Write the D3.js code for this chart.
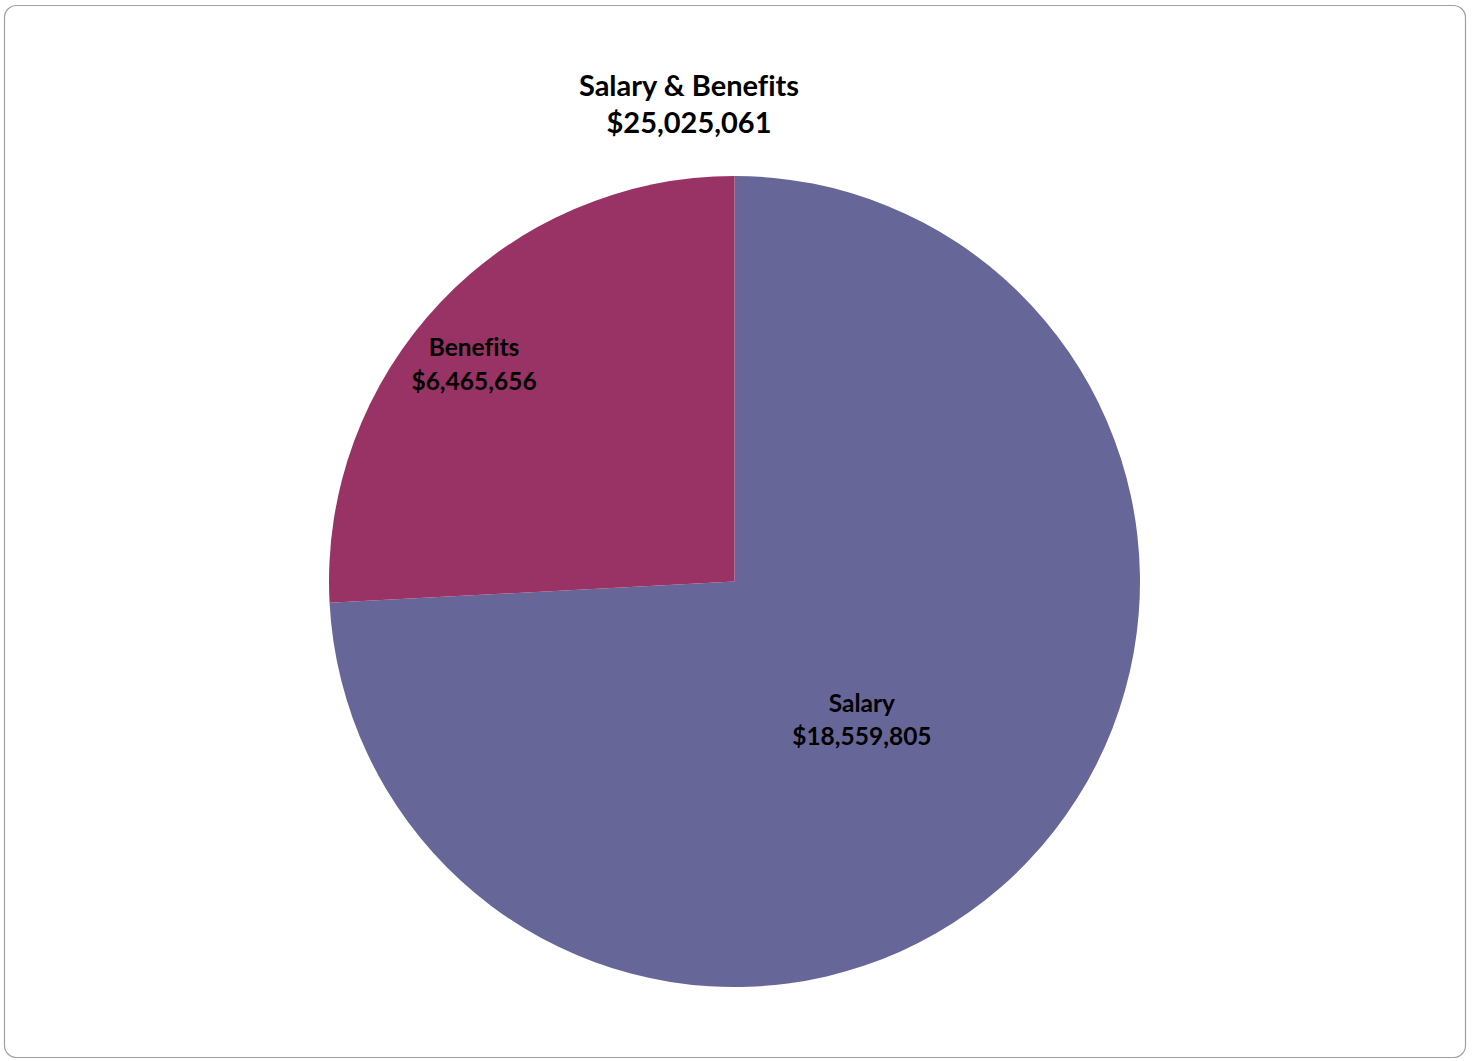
<!DOCTYPE html>
<html>
<head>
<meta charset="utf-8">
<script src="https://cdn.jsdelivr.net/npm/d3@7"></script>
<style>
  html, body { margin: 0; padding: 0; background: #ffffff; }
  svg { display: block; }
  text { font-family: Lato, "Open Sans", "DejaVu Sans", sans-serif; font-weight: bold; fill: #000;
         font-variant-ligatures: none; font-feature-settings: "liga" 0; }
</style>
</head>
<body>
<script>
// Salary & Benefits breakdown
const categories = ["Salary", "Benefits"];
const values = [18559805, 6465656];
const chartTitle = "Salary & Benefits";
const totalLabel = "$25,025,061";

const W = 1473, H = 1061;
const colors = { Salary: "#666699", Benefits: "#993366" };
// label placement per slice: radius fraction and angular shift (degrees) from the slice middle
const labelPlacement = {
  Salary:   { frac: 0.464, shift: 3.9 },
  Benefits: { frac: 0.836, shift: -3.7 }
};

const svg = d3.select("body").append("svg")
  .attr("width", W).attr("height", H);

// chart frame
svg.append("rect")
  .attr("x", 4.5).attr("y", 5.5)
  .attr("width", 1461).attr("height", 1052)
  .attr("rx", 12).attr("ry", 12)
  .attr("fill", "#fff")
  .attr("stroke", "#a0a0a0").attr("stroke-width", 1.2);

// title
const title = svg.append("text")
  .attr("text-anchor", "middle")
  .attr("font-size", 29);
title.append("tspan").attr("x", 689).attr("y", 96).text(chartTitle);
title.append("tspan").attr("x", 689).attr("y", 133).text(totalLabel);

const cx = 734.5, cy = 581.5, r = 405.5;
const data = categories.map((c, i) => ({ name: c, value: values[i] }));

const pie = d3.pie().value(d => d.value).sort(null);
const arc = d3.arc().innerRadius(0).outerRadius(r);
const arcs = pie(data);

const g = svg.append("g").attr("transform", `translate(${cx},${cy})`);

g.selectAll("path.slice")
  .data(arcs)
  .join("path")
  .attr("class", "slice")
  .attr("d", arc)
  .attr("fill", d => colors[d.data.name])
  .attr("stroke", "none");

const fmt = d3.format("$,");
const labels = g.selectAll("text.lbl")
  .data(arcs)
  .join("text")
  .attr("class", "lbl")
  .attr("text-anchor", "middle")
  .attr("font-size", 24.5)
  .attr("transform", d => {
    const p = labelPlacement[d.data.name];
    const a = (d.startAngle + d.endAngle) / 2 + p.shift * Math.PI / 180;
    const lr = r * p.frac;
    return `translate(${lr * Math.sin(a)},${-lr * Math.cos(a)})`;
  });
labels.append("tspan").attr("x", 0).attr("dy", "-0.33em").text(d => d.data.name);
labels.append("tspan").attr("x", 0).attr("dy", "1.35em").text(d => fmt(d.data.value));
</script>
</body>
</html>
